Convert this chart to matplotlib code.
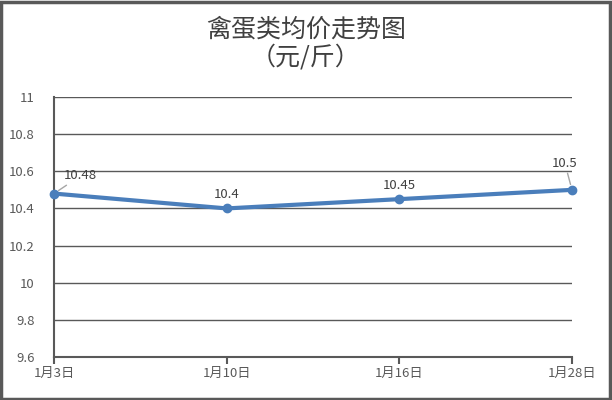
import matplotlib.pyplot as plt
from matplotlib.patches import Rectangle

plt.rcParams['font.family'] = ['Noto Sans CJK SC', 'DejaVu Sans']

dates = ['1月3日', '1月10日', '1月16日', '1月28日']
prices = [10.48, 10.4, 10.45, 10.5]
label_text = ['10.48', '10.4', '10.45', '10.5']

fig = plt.figure(figsize=(6.12, 4.0), dpi=100)
ax = fig.add_axes([0.0882, 0.1075, 0.8464, 0.65])

x = list(range(len(dates)))
ax.plot(x, prices, color='#4a7ebb', lw=3, marker='o', ms=6, zorder=3, clip_on=False)

ax.set_xlim(0, len(dates) - 1)
ax.set_ylim(9.6, 11)
ax.set_yticks([9.6, 9.8, 10, 10.2, 10.4, 10.6, 10.8, 11])
ax.set_yticklabels(['9.6', '9.8', '10', '10.2', '10.4', '10.6', '10.8', '11'])
ax.set_xticks(x)
ax.set_xticklabels(dates)
ax.grid(axis='y', color='#595959', lw=1)
ax.set_axisbelow(True)

for s in ['top', 'right']:
    ax.spines[s].set_visible(False)
for s in ['left', 'bottom']:
    ax.spines[s].set_color('#595959')
    ax.spines[s].set_linewidth(1.5)
ax.tick_params(axis='y', length=0, labelsize=9.5, colors='#595959', pad=14)
ax.tick_params(axis='x', length=5, width=1.5, color='#595959', labelsize=9.5,
               labelcolor='#595959', pad=2)

# data labels
offsets = [(19, 8), (0, 5), (0, 5), (-5, 14)]
for xi, yi, t, (dx, dy) in zip(x, prices, label_text, offsets):
    ax.annotate(t, (xi, yi), xytext=(dx, dy), textcoords='offset points',
                ha='center', va='bottom', fontsize=9.5, color='#404040',
                arrowprops=dict(arrowstyle='-', color='#a6a6a6', lw=1,
                                shrinkA=0, shrinkB=4) if t in ('10.48', '10.5') else None)

fig.text(0.5, 0.925, '禽蛋类均价走势图', ha='center', va='center', fontsize=18,
         color='#404040')
fig.text(0.5, 0.857, '（元/斤）', ha='center', va='center', fontsize=18,
         color='#404040')

fig.patches.append(Rectangle((0.002, 0.003), 0.994, 0.992, transform=fig.transFigure,
                             fill=False, edgecolor='#595959', lw=2.5))

fig.savefig('out.png', dpi=100)
